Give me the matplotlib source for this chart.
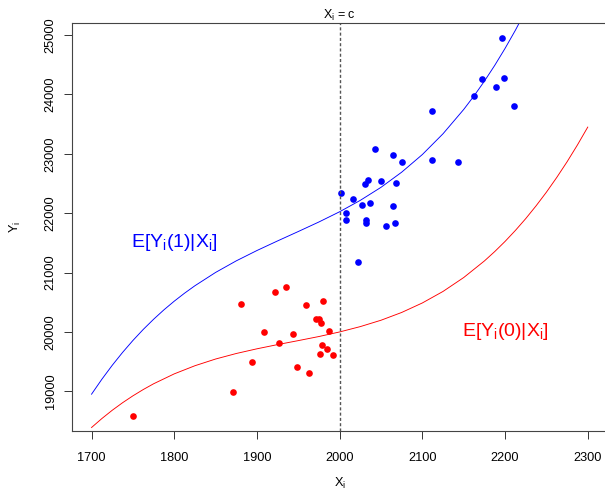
#Importing Modules
import numpy as np
import matplotlib
matplotlib.use("Agg")
import matplotlib.pyplot as plt

#---------/Data/------------------------------#

#Observed points, control group (left of cutoff)
red_x = [1750, 1871, 1881, 1894, 1908, 1922, 1935, 1927, 1943, 1948, 1959,
         1963, 1972, 1975, 1977, 1980, 1987, 1979, 1985, 1976, 1992]
red_y = [18590, 18996, 20466, 19490, 20000, 20678, 20762, 19815, 19971, 19406, 20449,
         19315, 20219, 20219, 20146, 20521, 20022, 19776, 19709, 19635, 19608]

#Observed points, treated group (right of cutoff)
blue_x = [2196, 2172, 2199, 2189, 2162, 2211, 2112, 2043, 2065, 2075, 2112, 2143, 2034, 2031,
          2050, 2068, 2002, 2016, 2027, 2037, 2064, 2008, 2008, 2032, 2032, 2056, 2067, 2022]
blue_y = [24950, 24261, 24284, 24121, 23981, 23802, 23722, 23083, 22972, 22854, 22888, 22854, 22551, 22489,
          22540, 22512, 22338, 22237, 22136, 22170, 22125, 22002, 21889, 21889, 21828, 21778, 21834, 21177]

#Expectation curves (denser where they bend)
ey0_x = [1700, 1712.5, 1725, 1737.5, 1750, 1762.5, 1775, 1800, 1825, 1850, 1875, 1900, 1925,
         1950, 1975, 2000, 2025, 2050, 2075, 2100, 2125, 2150, 2175, 2187.5, 2200, 2212.5,
         2225, 2237.5, 2250, 2262.5, 2275, 2287.5, 2300]
ey0 = [18391, 18542, 18681, 18808, 18924, 19030, 19127, 19294, 19431, 19544, 19637, 19716, 19787,
       19854, 19923, 20000, 20090, 20197, 20328, 20488, 20682, 20916, 21195, 21353, 21524, 21709,
       21908, 22123, 22353, 22601, 22865, 23148, 23449]

ey1_x = [1700, 1712.5, 1725, 1737.5, 1750, 1762.5, 1775, 1787.5, 1800, 1812.5, 1825, 1850, 1875,
         1900, 1925, 1950, 1975, 2000, 2025, 2050, 2075, 2100, 2125, 2150, 2162.5, 2175, 2187.5,
         2200, 2212.5, 2225, 2237.5]
ey1 = [18952, 19204, 19438, 19655, 19856, 20042, 20213, 20372, 20518, 20653, 20778, 21002, 21197,
       21371, 21533, 21691, 21852, 22024, 22216, 22435, 22690, 22987, 23337, 23746, 23975, 24222, 24488,
       24774, 25080, 25409, 25760]

cutoff = 2000
x_ticks = [1700, 1800, 1900, 2000, 2100, 2200, 2300]
y_ticks = [19000, 20000, 21000, 22000, 23000, 24000, 25000]

#---------/Plot/------------------------------#

plt.rcParams['font.family'] = ['Liberation Sans', 'DejaVu Sans']
plt.rcParams['mathtext.default'] = 'regular'

fig = plt.figure(figsize=(6.05, 4.92), dpi=100)
ax = fig.add_axes([71.7 / 605, 61 / 492, 535.9 / 605, 408.3 / 492])

#Curves
ax.plot(ey1_x, ey1, color="#0000ff", lw=0.65, solid_joinstyle="round")
ax.plot(ey0_x, ey0, color="#ff0000", lw=0.65, solid_joinstyle="round")

#Points
ax.plot(red_x, red_y, "o", color="#ff0000", ms=4.8, mew=0)
ax.plot(blue_x, blue_y, "o", color="#0000ff", ms=4.8, mew=0)

#Cutoff line
ax.axvline(cutoff, color="#555555", lw=1.0, linestyle=(0, (2.2, 1.6)))
ax.annotate("X$_i$ = c", xy=(cutoff, 1), xycoords=ax.get_xaxis_transform(),
            xytext=(0, 3), textcoords="offset points",
            ha="center", va="baseline", fontsize=9)

#Curve labels
ax.text(1800, 21500, "E[Y$_i$(1)|X$_i$]", color="#0000ff", fontsize=14,
        ha="center", va="center")
ax.text(2200, 20000, "E[Y$_i$(0)|X$_i$]", color="#ff0000", fontsize=14,
        ha="center", va="center")

#Axes
ax.set_xlim(1676, 2324)
ax.set_ylim(18332, 25207)
ax.set_xticks(x_ticks)
ax.set_yticks(y_ticks)
ax.tick_params(direction="out", length=5.8, width=0.7, labelsize=9.2, color="#333333")
ax.tick_params(axis="x", pad=9)
ax.tick_params(axis="y", pad=5)
for lab in ax.get_yticklabels():
    lab.set_rotation(90)
    lab.set_va("center")
    lab.set_ha("right")
for s in ax.spines.values():
    s.set_color("#444444")
    s.set_linewidth(0.8)

#Axis titles
fig.text(339.6 / 605, 1 - 483 / 492, "X$_i$", fontsize=9.2, ha="center", va="center")
fig.text(15 / 605, 1 - 227 / 492, "Y$_i$", fontsize=9.2, ha="center", va="center", rotation=90)

plt.savefig("out.png", dpi=100)
